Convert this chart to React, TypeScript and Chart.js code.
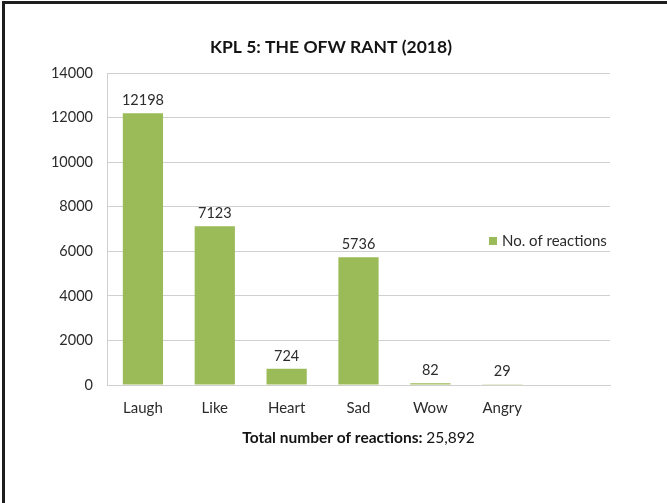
import React, { useEffect, useRef } from 'react';
import { Chart, registerables } from 'chart.js';

Chart.register(...registerables);

const categories = ['Laugh', 'Like', 'Heart', 'Sad', 'Wow', 'Angry', ''];
const reactions: (number | null)[] = [12198, 7123, 724, 5736, 82, 29, null];
const yMin = 0;
const yMax = 14000;
const yStep = 2000;
const chartTitle = 'KPL 5: THE OFW RANT (2018)';
const seriesName = 'No. of reactions';
const totalLabel = 'Total number of reactions:';
const totalValue = '25,892';

const FONT = 'Lato, "Open Sans", sans-serif';
const BAR = '#9bbb59';
const TEXT = '#2c2c2c';

const W = 667;
const H = 503;

const decorPlugin = {
  id: 'decor',
  beforeDraw(chart: any) {
    const ctx = chart.ctx;
    ctx.save();
    ctx.fillStyle = '#ffffff';
    ctx.fillRect(0, 0, chart.width, chart.height);
    ctx.fillStyle = '#1e1e1e';
    ctx.fillRect(2, 1, 3, chart.height);
    ctx.fillRect(2, 1, chart.width, 3);
    // title
    ctx.fillStyle = '#141414';
    ctx.font = `bold 17.5px ${FONT}`;
    ctx.textAlign = 'center';
    ctx.textBaseline = 'middle';
    ctx.fillText(chartTitle, 331, 47);
    ctx.restore();
  },
  afterDatasetsDraw(chart: any) {
    const ctx = chart.ctx;
    const meta = chart.getDatasetMeta(0);
    ctx.save();
    ctx.font = `14.5px ${FONT}`;
    ctx.fillStyle = TEXT;
    ctx.textAlign = 'center';
    ctx.textBaseline = 'alphabetic';
    meta.data.forEach((bar: any, i: number) => {
      const v = reactions[i];
      if (v === null || v === undefined) return;
      ctx.fillText(String(v), bar.x, bar.y - 8);
    });
    ctx.restore();
  },
  afterDraw(chart: any) {
    const ctx = chart.ctx;
    const area = chart.chartArea;
    ctx.save();
    // legend
    ctx.fillStyle = BAR;
    ctx.fillRect(489, 237, 8, 8);
    ctx.font = `15px ${FONT}`;
    ctx.fillStyle = TEXT;
    ctx.textAlign = 'left';
    ctx.textBaseline = 'middle';
    ctx.fillText(seriesName, 502, 241);
    // bottom total text
    const size = 15.5;
    ctx.font = `bold ${size}px ${FONT}`;
    const boldW = ctx.measureText(totalLabel + ' ').width;
    ctx.font = `${size}px ${FONT}`;
    const normW = ctx.measureText(totalValue).width;
    const cx = (area.left + area.right) / 2;
    const startX = cx - (boldW + normW) / 2;
    ctx.fillStyle = '#141414';
    ctx.font = `bold ${size}px ${FONT}`;
    ctx.fillText(totalLabel + ' ', startX, 438);
    ctx.font = `${size}px ${FONT}`;
    ctx.fillText(totalValue, startX + boldW, 438);
    ctx.restore();
  },
};

export default function App() {
  const ref = useRef<HTMLCanvasElement | null>(null);

  useEffect(() => {
    document.body.style.margin = '0';
    const canvas = ref.current;
    if (!canvas) return;
    const chart = new Chart(canvas, {
      type: 'bar',
      data: {
        labels: categories,
        datasets: [
          {
            label: seriesName,
            data: reactions,
            backgroundColor: BAR,
            borderWidth: 0,
            categoryPercentage: 1,
            barPercentage: 0.56,
          },
        ],
      },
      options: {
        responsive: false,
        animation: false,
        devicePixelRatio: 1,
        layout: { padding: { left: 0, right: 57, top: 73, bottom: 0 } },
        plugins: {
          legend: { display: false },
          tooltip: { enabled: false },
          title: { display: false },
        },
        scales: {
          x: {
            grid: { display: false, drawTicks: false },
            border: { display: true, color: '#d0d0d0', width: 1 },
            ticks: {
              color: TEXT,
              font: { family: FONT, size: 15 },
              padding: 14,
              maxRotation: 0,
              autoSkip: false,
            },
            afterFit(scale: any) {
              scale.height = 118;
            },
          },
          y: {
            min: yMin,
            max: yMax,
            grid: { color: '#d0d0d0', lineWidth: 1, drawTicks: false },
            border: { display: true, color: '#d0d0d0', width: 1 },
            ticks: {
              stepSize: yStep,
              color: TEXT,
              font: { family: FONT, size: 14.5 },
              padding: 14,
              callback: (v: any) => String(v),
            },
            afterFit(scale: any) {
              scale.width = 107;
            },
          },
        },
      },
      plugins: [decorPlugin],
    } as any);
    return () => chart.destroy();
  }, []);

  return (
    <div style={{ width: W, height: H, position: 'relative' }}>
      <canvas ref={ref} width={W} height={H} style={{ display: 'block', width: W, height: H }} />
    </div>
  );
}
